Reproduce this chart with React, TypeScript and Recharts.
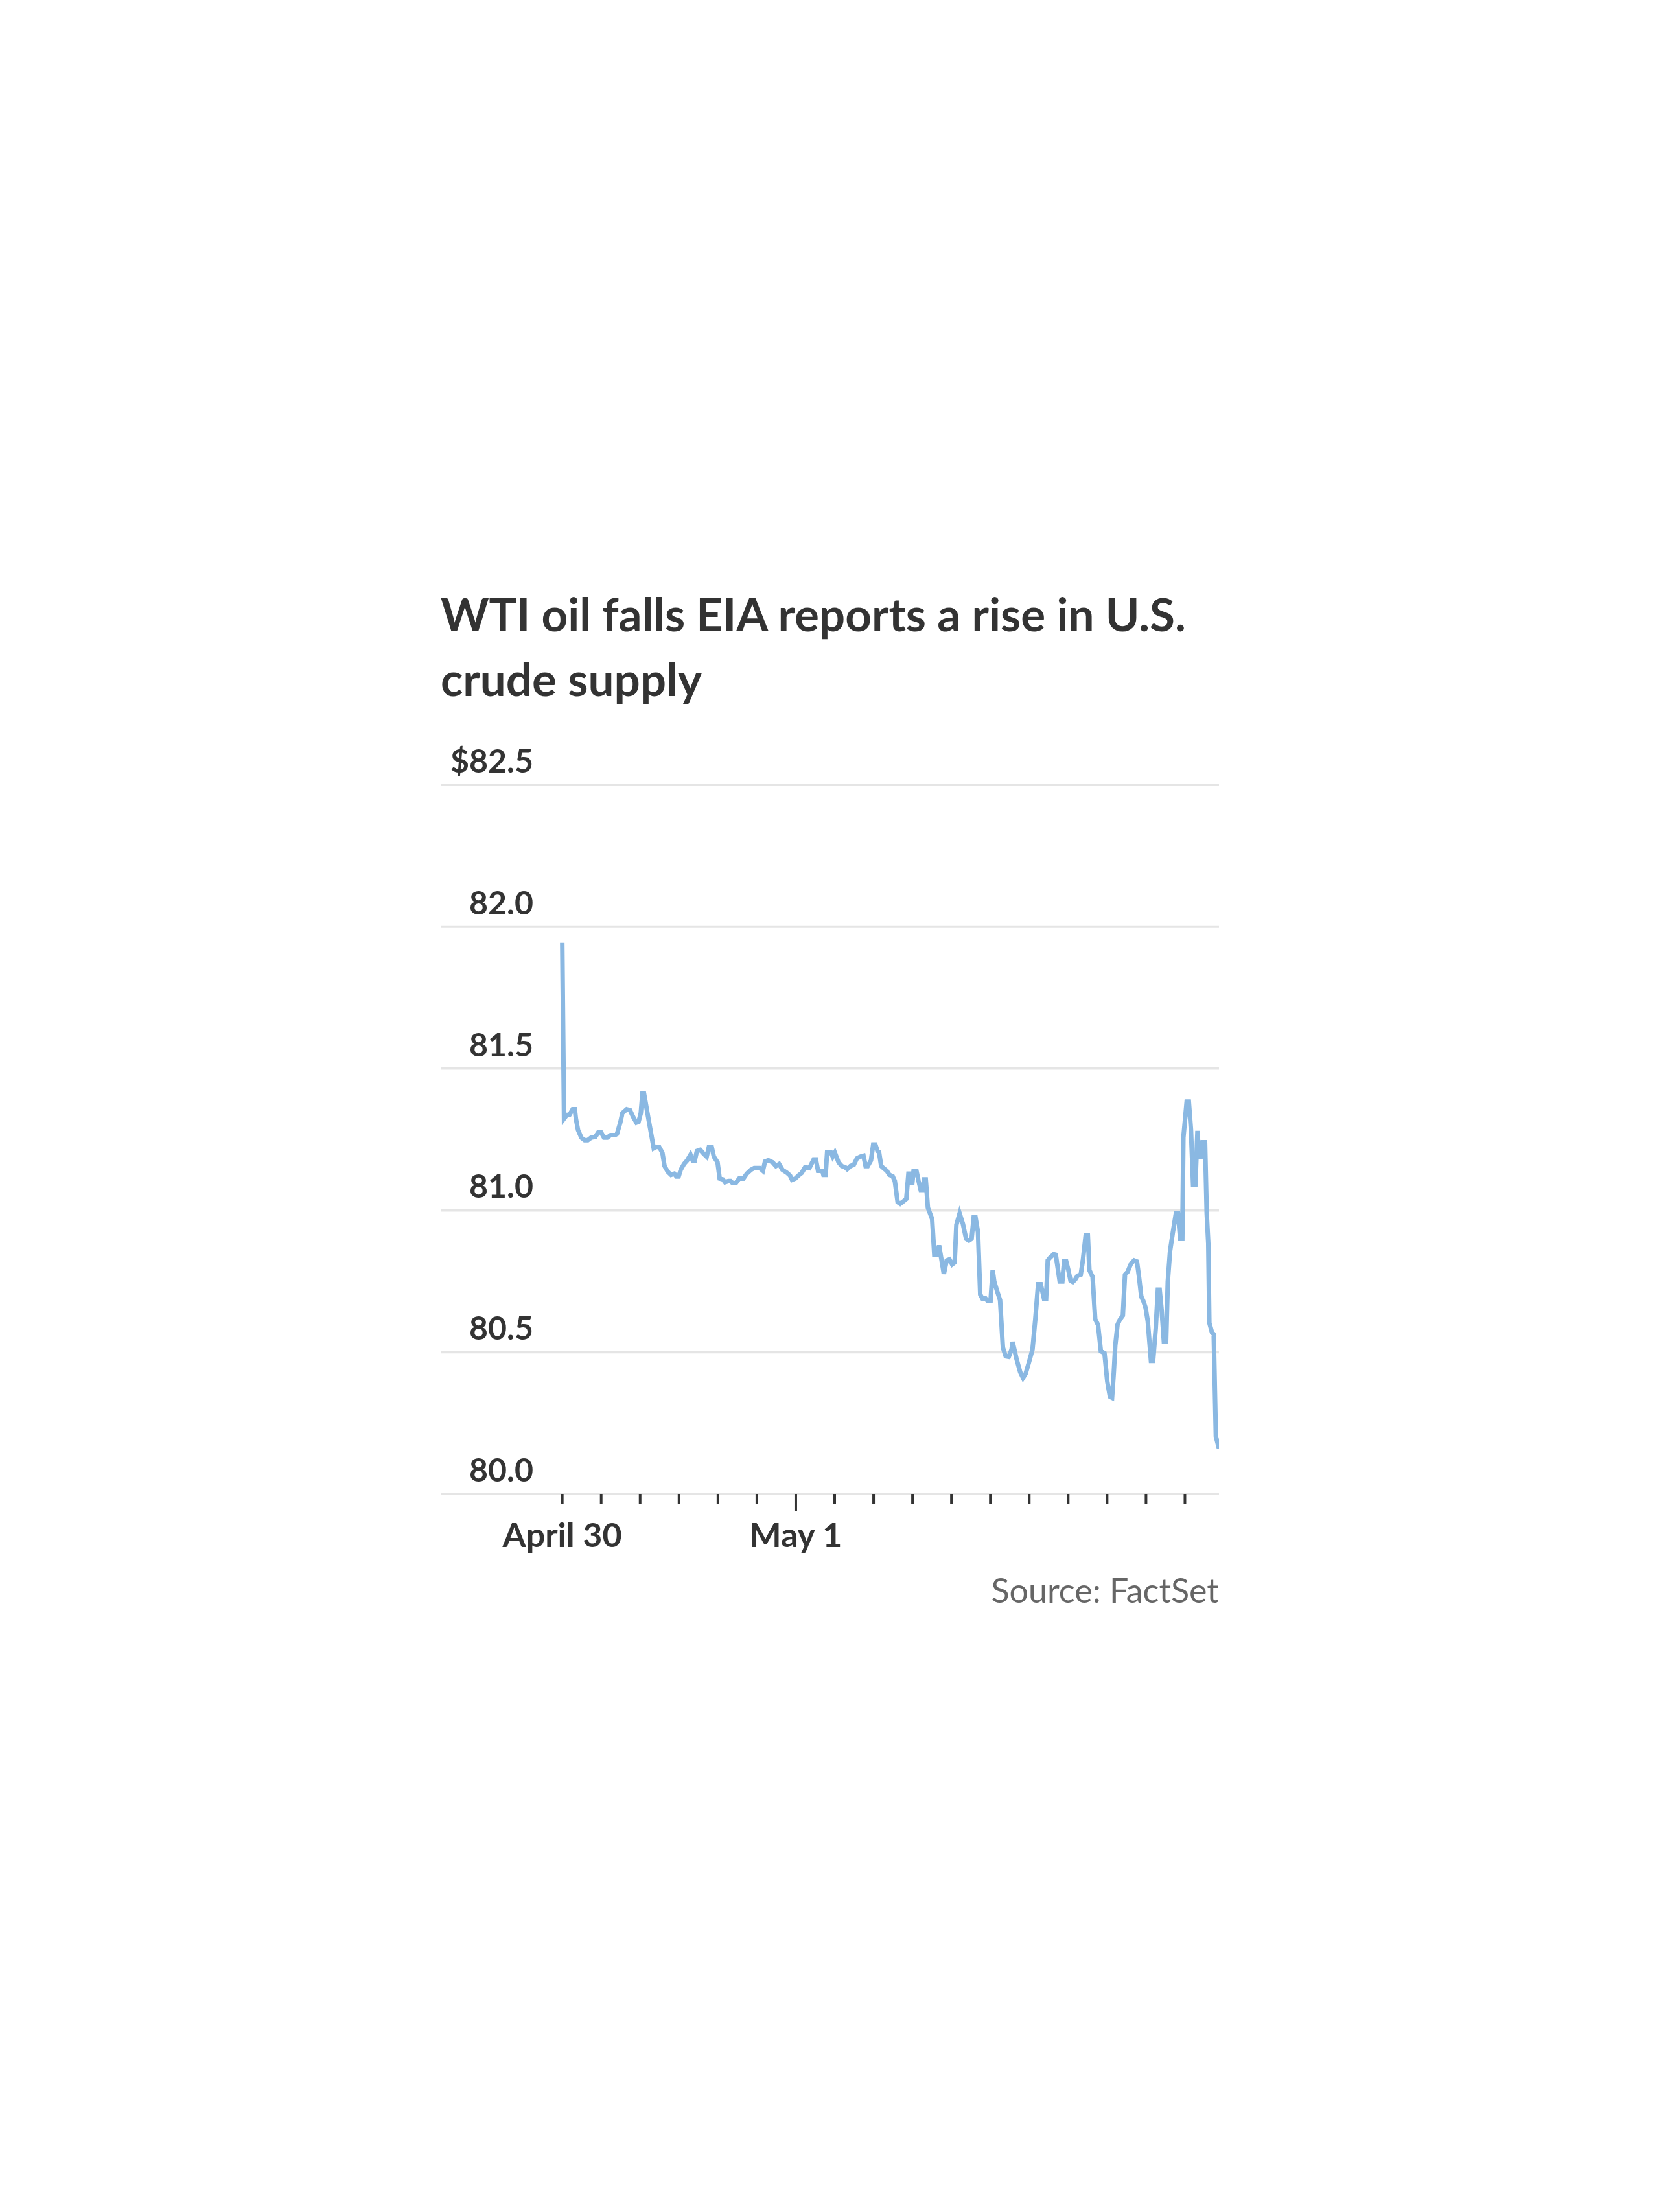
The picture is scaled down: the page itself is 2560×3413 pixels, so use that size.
import React from "react";
import { LineChart, Line, XAxis, YAxis, CartesianGrid } from "recharts";

// Hours since April 30 00:00
const hours: number[] = [
  0, 0.18, 0.47, 0.73, 1.07, 1.29, 1.4, 1.62, 1.96, 2.29, 2.62, 2.96, 3.4, 3.73, 3.96,
  4.29, 4.62, 4.96, 5.4, 5.62, 5.96, 6.18, 6.62, 6.96, 7.29, 7.62, 7.84, 8.07, 8.24, 8.4,
  8.96, 9.4, 9.62, 9.96, 10.29, 10.51, 10.84, 11.18, 11.51, 11.73, 11.96, 12.18, 12.51, 12.84,
  13.18, 13.4, 13.62, 13.84, 14.18, 14.51, 14.84, 15.07, 15.36, 15.58, 15.96, 16.18, 16.51,
  16.73, 17.07, 17.29, 17.51, 17.84, 18.18, 18.62, 18.96, 19.4, 19.73, 20.29, 20.62, 20.84,
  21.18, 21.62, 21.96, 22.29, 22.62, 23.07, 23.4, 23.62, 23.96, 24.29, 24.62, 24.96, 25.4,
  25.84, 26.07, 26.29, 26.73, 26.84, 27.07, 27.22, 27.62, 27.8, 28.02, 28.4, 28.73, 29.07,
  29.29, 29.62, 29.96, 30.29, 30.62, 30.96, 31.18, 31.4, 31.73, 31.96, 32.18, 32.4, 32.56,
  32.78, 33.07, 33.36, 33.62, 33.96, 34.18, 34.47, 34.73, 35.07, 35.36, 35.58, 35.84, 35.96,
  36.11, 36.4, 36.62, 36.84, 37.07, 37.18, 37.36, 37.58, 37.8, 38.02, 38.24, 38.51, 38.73,
  38.96, 39.22, 39.51, 39.8, 40.07, 40.33, 40.51, 40.84, 41.18, 41.51, 41.8, 42.07, 42.29,
  42.47, 42.73, 42.96, 43.18, 43.51, 43.73, 44.02, 44.24, 44.4, 44.69, 45.0, 45.29, 45.58,
  45.89, 46.18, 46.29, 46.69, 47.07, 47.36, 47.62, 47.96, 48.33, 48.62, 48.91, 49.18, 49.51,
  49.73, 49.9, 50.11, 50.51, 50.73, 50.84, 51.13, 51.4, 51.58, 51.8, 52.02, 52.24, 52.47,
  52.73, 52.96, 53.29, 53.51, 53.8, 54.02, 54.18, 54.51, 54.78, 55.07, 55.36, 55.73, 56.02,
  56.29, 56.51, 56.69, 56.84, 57.07, 57.29, 57.62, 57.84, 58.11, 58.47, 58.78, 59.07, 59.29,
  59.51, 59.73, 59.96, 60.18, 60.51, 60.73, 61.0, 61.22, 61.4, 61.62, 61.84, 62.07, 62.24,
  62.47, 62.73, 63.07, 63.29, 63.51, 63.73, 63.84, 64.18, 64.4, 64.62, 64.84, 65.07, 65.29,
  65.44, 65.62, 65.8, 66.07, 66.24, 66.4, 66.51, 66.78, 66.96, 67.18, 67.5,
];

// WTI price, dollars
const prices: number[] = [
  81.943, 81.323, 81.336, 81.336, 81.356, 81.356, 81.323, 81.283, 81.256, 81.247, 81.247,
  81.256, 81.259, 81.276, 81.276, 81.256, 81.256, 81.265, 81.265, 81.269, 81.309, 81.343,
  81.356, 81.353, 81.329, 81.309, 81.312, 81.343, 81.412, 81.412, 81.303, 81.219, 81.223,
  81.223, 81.203, 81.156, 81.136, 81.125, 81.129, 81.119, 81.119, 81.143, 81.163, 81.176,
  81.196, 81.176, 81.176, 81.209, 81.213, 81.2, 81.189, 81.223, 81.223, 81.189, 81.169,
  81.112, 81.109, 81.099, 81.103, 81.103, 81.096, 81.096, 81.112, 81.112, 81.129, 81.143,
  81.149, 81.149, 81.139, 81.172, 81.176, 81.169, 81.156, 81.163, 81.143, 81.133, 81.123,
  81.107, 81.112, 81.123, 81.132, 81.152, 81.149, 81.179, 81.179, 81.139, 81.139, 81.125,
  81.125, 81.203, 81.203, 81.189, 81.203, 81.169, 81.156, 81.152, 81.145, 81.156, 81.16,
  81.183, 81.189, 81.192, 81.156, 81.156, 81.176, 81.232, 81.232, 81.209, 81.205, 81.156,
  81.147, 81.139, 81.125, 81.12, 81.103, 81.029, 81.023, 81.032, 81.04, 81.129, 81.129,
  81.089, 81.139, 81.139, 81.103, 81.072, 81.072, 81.109, 81.109, 81.009, 80.989, 80.969,
  80.843, 80.843, 80.876, 80.829, 80.776, 80.823, 80.827, 80.809, 80.816, 80.949, 80.989,
  80.952, 80.899, 80.893, 80.899, 80.976, 80.976, 80.923, 80.703, 80.689, 80.689, 80.68,
  80.68, 80.789, 80.749, 80.716, 80.683, 80.516, 80.485, 80.483, 80.509, 80.536, 80.476,
  80.429, 80.409, 80.423, 80.463, 80.509, 80.616, 80.739, 80.739, 80.689, 80.689, 80.823,
  80.832, 80.845, 80.843, 80.816, 80.749, 80.749, 80.819, 80.819, 80.789, 80.752, 80.747,
  80.756, 80.769, 80.773, 80.823, 80.912, 80.912, 80.789, 80.765, 80.616, 80.596, 80.503,
  80.496, 80.396, 80.343, 80.339, 80.429, 80.523, 80.596, 80.613, 80.629, 80.773, 80.783,
  80.813, 80.823, 80.819, 80.763, 80.696, 80.68, 80.656, 80.609, 80.469, 80.469, 80.583,
  80.72, 80.72, 80.643, 80.536, 80.536, 80.749, 80.856, 80.916, 80.989, 80.989, 80.899,
  80.899, 81.256, 81.383, 81.383, 81.283, 81.089, 81.089, 81.28, 81.189, 81.189, 81.24,
  81.24, 80.989, 80.883, 80.603, 80.569, 80.563, 80.203, 80.16,
];

const yTicks: number[] = [80, 80.5, 81, 81.5, 82, 82.5];
const yTickLabels: string[] = ["80.0", "80.5", "81.0", "81.5", "82.0", "$82.5"];
const xTicks: number[] = [0, 4, 8, 12, 16, 20, 24, 28, 32, 36, 40, 44, 48, 52, 56, 60, 64];
const xTickLabels: Record<number, string> = { 0: "April 30", 24: "May 1" };
const majorTick = 24;

const title1 = "WTI oil falls EIA reports a rise in U.S.";
const title2 = "crude supply";
const source = "Source: FactSet";

const data = hours.map((t, i) => ({ t, price: prices[i] }));

const FONT = "Lato, 'Noto Sans', sans-serif";
const CHART_LEFT = 600;
const CHART_TOP = 1100;
const AXIS_Y = 1205; // chart coords of the plot bottom

const YTick = (props: any) => {
  const { y, payload } = props;
  const idx = yTicks.indexOf(payload.value);
  return (
    <text
      x={223}
      y={y - 19}
      textAnchor="end"
      fontFamily={FONT}
      fontWeight={700}
      fontSize={50}
      fill="#333333"
    >
      {yTickLabels[idx]}
    </text>
  );
};

const XTick = (props: any) => {
  const { x, payload } = props;
  const v = payload.value;
  const len = v === majorTick ? 27 : 16;
  const label = xTickLabels[v];
  return (
    <g>
      <line x1={x} x2={x} y1={AXIS_Y} y2={AXIS_Y + len} stroke="#333333" strokeWidth={4} />
      {label ? (
        <text
          x={x}
          y={AXIS_Y + 82}
          textAnchor="middle"
          fontFamily={FONT}
          fontWeight={700}
          fontSize={52}
          fill="#333333"
        >
          {label}
        </text>
      ) : null}
    </g>
  );
};

export default function App() {
  return (
    <div
      style={{
        position: "absolute",
        left: 0,
        top: 0,
        width: 2560,
        height: 3413,
        background: "#ffffff",
        fontFamily: FONT,
      }}
    >
      <div
        style={{
          position: "absolute",
          left: 680,
          top: 897,
          fontSize: 71,
          lineHeight: "100px",
          fontWeight: 700,
          color: "#333333",
          whiteSpace: "nowrap",
        }}
      >
        <div>{title1}</div>
        <div>{title2}</div>
      </div>
      <div style={{ position: "absolute", left: CHART_LEFT, top: CHART_TOP }}>
        <LineChart
          width={1300}
          height={1400}
          data={data}
          margin={{ top: 111, right: 19, bottom: 5, left: 79 }}
        >
          <CartesianGrid vertical={false} stroke="#e5e5e5" strokeWidth={4} />
          <XAxis
            type="number"
            dataKey="t"
            domain={[-12.5, 67.5]}
            ticks={xTicks}
            interval={0}
            height={190}
            axisLine={{ stroke: "#e5e5e5", strokeWidth: 4 }}
            tickLine={false}
            tick={<XTick />}
            allowDataOverflow
          />
          <YAxis
            type="number"
            domain={[80, 82.5]}
            ticks={yTicks}
            interval={0}
            width={1}
            axisLine={false}
            tickLine={false}
            tick={<YTick />}
            allowDataOverflow
          />
          <Line
            type="linear"
            dataKey="price"
            stroke="#8ab8e2"
            strokeWidth={7}
            dot={false}
            activeDot={false}
            isAnimationActive={false}
          />
        </LineChart>
      </div>
      <div
        style={{
          position: "absolute",
          left: 1281,
          width: 600,
          top: 2418,
          textAlign: "right",
          fontSize: 52,
          lineHeight: "70px",
          color: "#666666",
          whiteSpace: "nowrap",
        }}
      >
        {source}
      </div>
    </div>
  );
}
